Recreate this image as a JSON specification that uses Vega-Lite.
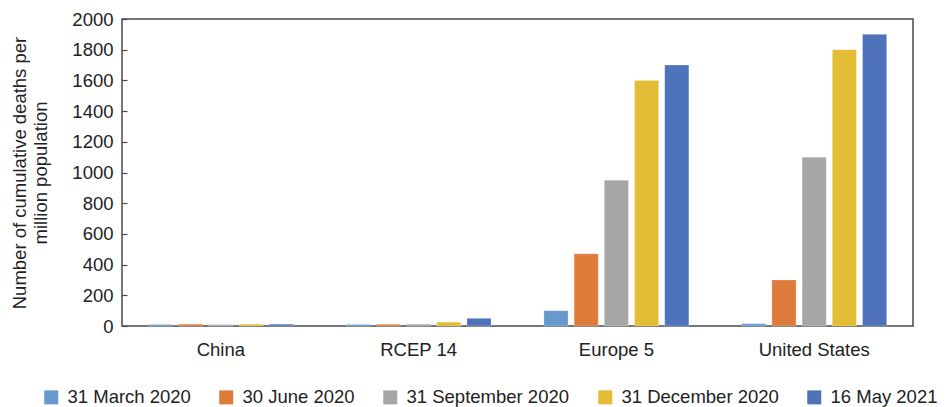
{
  "$schema": "https://vega.github.io/schema/vega-lite/v6.json",
  "autosize": {"type": "none"},
  "padding": {"left": 122, "top": 19, "right": 35, "bottom": 81},
  "width": 791,
  "height": 307,
  "background": "white",
  "config": {
    "font": "Liberation Sans",
    "view": {"stroke": "#4a4a4a", "strokeWidth": 1.5}
  },
  "data": {
    "values": [
      {"region": "China", "date": "31 March 2020", "value": 10},
      {"region": "China", "date": "30 June 2020", "value": 12},
      {"region": "China", "date": "31 September 2020", "value": 10},
      {"region": "China", "date": "31 December 2020", "value": 12},
      {"region": "China", "date": "16 May 2021", "value": 12},
      {"region": "RCEP 14", "date": "31 March 2020", "value": 10},
      {"region": "RCEP 14", "date": "30 June 2020", "value": 12},
      {"region": "RCEP 14", "date": "31 September 2020", "value": 12},
      {"region": "RCEP 14", "date": "31 December 2020", "value": 25},
      {"region": "RCEP 14", "date": "16 May 2021", "value": 50},
      {"region": "Europe 5", "date": "31 March 2020", "value": 100},
      {"region": "Europe 5", "date": "30 June 2020", "value": 470},
      {"region": "Europe 5", "date": "31 September 2020", "value": 950},
      {"region": "Europe 5", "date": "31 December 2020", "value": 1600},
      {"region": "Europe 5", "date": "16 May 2021", "value": 1700},
      {"region": "United States", "date": "31 March 2020", "value": 15},
      {"region": "United States", "date": "30 June 2020", "value": 300},
      {"region": "United States", "date": "31 September 2020", "value": 1100},
      {"region": "United States", "date": "31 December 2020", "value": 1800},
      {"region": "United States", "date": "16 May 2021", "value": 1900}
    ]
  },
  "mark": {"type": "bar", "stroke": "white", "strokeOpacity": 0.5, "strokeWidth": 0.5},
  "encoding": {
    "x": {
      "field": "region",
      "type": "nominal",
      "sort": ["China", "RCEP 14", "Europe 5", "United States"],
      "scale": {"paddingInner": 0.267, "paddingOuter": 0.133},
      "axis": {
        "title": null,
        "labelAngle": 0,
        "ticks": false,
        "domain": false,
        "labelFontSize": 18.5,
        "labelColor": "#222222",
        "labelPadding": 14
      }
    },
    "xOffset": {
      "field": "date",
      "type": "nominal",
      "sort": ["31 March 2020", "30 June 2020", "31 September 2020", "31 December 2020", "16 May 2021"],
      "scale": {"paddingInner": 0.2, "paddingOuter": 0}
    },
    "y": {
      "field": "value",
      "type": "quantitative",
      "scale": {"domain": [0, 2000], "nice": false},
      "axis": {
        "values": [0, 200, 400, 600, 800, 1000, 1200, 1400, 1600, 1800, 2000],
        "format": "d",
        "grid": false,
        "domain": false,
        "tickSize": -5,
        "tickColor": "#4a4a4a",
        "tickWidth": 1.2,
        "labelPadding": 14,
        "labelFontSize": 18.5,
        "labelColor": "#222222",
        "title": ["Number of cumulative deaths per", "million population"],
        "titleFontSize": 18.5,
        "titleFontWeight": "normal",
        "titleColor": "#222222",
        "titlePadding": 21,
        "titleLineHeight": 21
      }
    },
    "color": {
      "field": "date",
      "type": "nominal",
      "sort": ["31 March 2020", "30 June 2020", "31 September 2020", "31 December 2020", "16 May 2021"],
      "scale": {
        "domain": ["31 March 2020", "30 June 2020", "31 September 2020", "31 December 2020", "16 May 2021"],
        "range": ["#6699CC", "#DE7A3A", "#A6A6A6", "#E3BD35", "#4E73BA"]
      },
      "legend": {
        "title": null,
        "orient": "none",
        "direction": "horizontal",
        "legendX": -80,
        "legendY": 369,
        "padding": 0,
        "symbolType": "square",
        "symbolSize": 196,
        "symbolStrokeWidth": 0,
        "labelFontSize": 18.5,
        "labelLimit": 400,
        "labelColor": "#222222",
        "labelOffset": 7,
        "columnPadding": 26
      }
    }
  }
}
